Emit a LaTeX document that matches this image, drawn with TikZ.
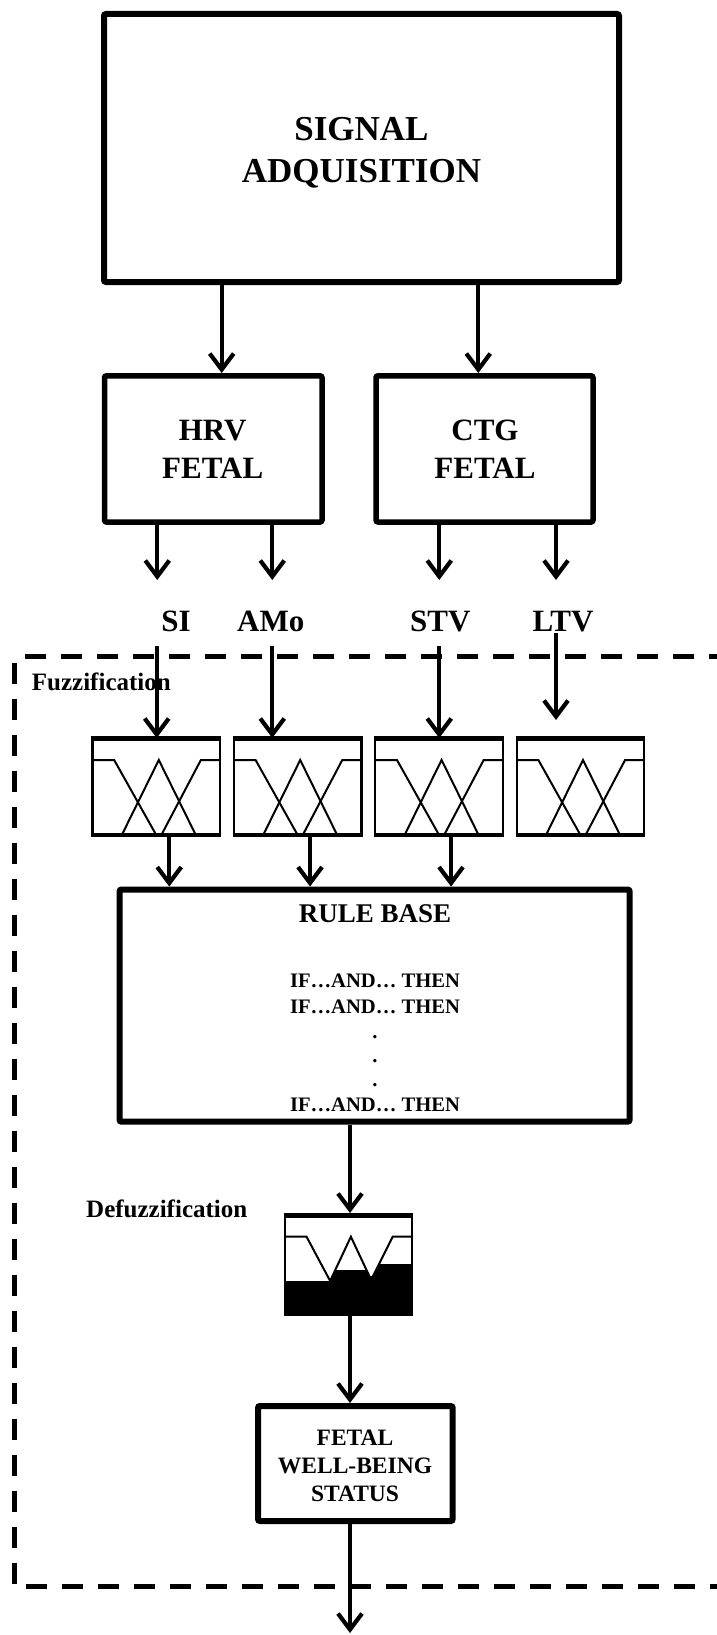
\documentclass[tikz,border=0pt]{standalone}
\usepackage{fontspec}
\setmainfont{Liberation Serif}
\usetikzlibrary{arrows.meta,calc}
\newcommand{\mfshape}[4]{%
  \draw[mf] (#1,#3) -- ({#1+0.17*#2},#3) -- ({#1+0.50*#2},#4);
  \draw[mf] ({#1+0.23*#2},#4) -- ({#1+0.52*#2},#3) -- ({#1+0.81*#2},#4);
  \draw[mf] ({#1+0.54*#2},#4) -- ({#1+0.85*#2},#3) -- ({#1+#2},#3);}
\begin{document}
\begin{tikzpicture}[x=1pt,y=-1pt,
  box/.style={draw, line width=6pt, rounded corners=2pt, inner sep=0pt, rectangle},
  fzbox/.style={draw, line width=2.2pt, inner sep=0pt, outer sep=0pt, rectangle},
  arr/.style={line width=4.2pt, -{Straight Barb[length=16pt,width=24pt]}},
  mf/.style={line width=2pt, line join=miter},
  thick5/.style={line width=5pt},
  dashbox/.style={line width=5pt, dash pattern=on 21pt off 15pt},
  tbig/.style={font=\fontsize{35}{42}\selectfont\bfseries, anchor=base, inner sep=0pt},
  tmid/.style={font=\fontsize{31}{36}\selectfont\bfseries, anchor=base, inner sep=0pt},
  trb/.style={font=\fontsize{27}{32}\selectfont\bfseries, anchor=base, inner sep=0pt},
  tif/.style={font=\fontsize{20.6}{25}\selectfont\bfseries, anchor=base, inner sep=0pt},
  tfz/.style={font=\fontsize{25}{30}\selectfont\bfseries, anchor=base west, inner sep=0pt},
  tst/.style={font=\fontsize{23.5}{28}\selectfont\bfseries, anchor=base, inner sep=0pt}
]
\useasboundingbox (0,0) rectangle (717,1635);

% dashed fuzzy system frame
\draw[dashbox, dash phase=25pt] (14.3,656.7) -- (760,656.7);
\draw[dashbox, dash phase=30pt] (14.3,656.7) -- (14.3,1586.7) -- (760,1586.7);

% main boxes
\node[box, minimum width=515pt, minimum height=268pt] (sig) at (361.5,148) {};
\node[tbig] (sigA) at (361.5,140) {SIGNAL};
\node[tbig] (sigB) at (361.5,182.7) {ADQUISITION};

\node[box, line width=5.5pt, minimum width=217.5pt, minimum height=146.2pt] (hrv) at (213.25,448.9) {};
\node[tmid] (hrvA) at (212.7,440) {HRV};
\node[tmid] (hrvB) at (212.7,478.3) {FETAL};

\node[box, line width=5.5pt, minimum width=217pt, minimum height=146.2pt] (ctg) at (484.5,448.9) {};
\node[tmid] (ctgA) at (485,440) {CTG};
\node[tmid] (ctgB) at (485,478.3) {FETAL};

% signal -> hrv / ctg
\coordinate (s1) at (221.7,373);
\coordinate (s2) at (478.3,373);
\draw[arr] (s1 |- sig.south) -- (s1 |- hrv.north);
\draw[arr] (s2 |- sig.south) -- (s2 |- ctg.north);

% feature labels
\node[tmid] (lSI) at (176,631.7) {SI};
\node[tmid] (lAMo) at (270.8,631.7) {AMo};
\node[tmid] (lSTV) at (440.3,631.7) {STV};
\node[tmid] (lLTV) at (563,631.7) {LTV};

\coordinate (tSI) at (157.3,580);
\coordinate (tAMo) at (272.3,580);
\coordinate (tSTV) at (439.3,580);
\coordinate (tLTV) at (556,580);
\draw[arr] (tSI |- hrv.south) -- (tSI);
\draw[arr] (tAMo |- hrv.south) -- (tAMo);
\draw[arr] (tSTV |- ctg.south) -- (tSTV);
\draw[arr] (tLTV |- ctg.south) -- (tLTV);

\node[tfz] (fuzT) at (31.7,690) {Fuzzification};

% fuzzification boxes
\foreach \k in {1,2,3,4}{
  \pgfmathsetmacro{\L}{92.5+141.4*(\k-1)}
  \node[fzbox, minimum width=127.5pt, minimum height=97pt] (fz\k) at (\L+63.75,786.5) {};
  \mfshape{\L}{127.5}{760}{835}
  \draw[thick5] ($(fz\k.north west)+(-1.1,0)$) -- ($(fz\k.north east)+(1.1,0)$);
  \draw[line width=4pt] ($(fz\k.south west)+(-1.1,0)$) -- ($(fz\k.south east)+(1.1,0)$);
}

% label -> fuzzification
\coordinate (bSI) at (156.7,646);
\coordinate (bAMo) at (272.3,646);
\coordinate (bSTV) at (439.3,646);
\coordinate (bLTV) at (556,633);
\coordinate (eLTV) at (556,720);
\draw[arr] (bSI) -- (bSI |- fz1.north);
\draw[arr] (bAMo) -- (bAMo |- fz2.north);
\draw[arr] (bSTV) -- (bSTV |- fz3.north);
\draw[arr] (bLTV) -- (eLTV);

% rule base
\node[box, minimum width=510.1pt, minimum height=232.2pt] (rule) at (374.55,1005.6) {};
\node[trb] (ruleT) at (375,922.7) {RULE BASE};
\node[tif] (r1) at (375,987.3) {IF…AND… THEN};
\node[tif] (r2) at (375,1013.3) {IF…AND… THEN};
\node[tif] (d1) at (375,1038) {.};
\node[tif] (d2) at (375,1062) {.};
\node[tif] (d3) at (375,1086) {.};
\node[tif] (r3) at (375,1111.7) {IF…AND… THEN};

\coordinate (f1o) at ($(fz1.south)+(13,1)$);
\coordinate (f2o) at ($(fz2.south)+(12.4,1)$);
\coordinate (f3o) at ($(fz3.south)+(12,1)$);
\draw[arr] (f1o) -- (f1o |- rule.north);
\draw[arr] (f2o) -- (f2o |- rule.north);
\draw[arr] (f3o) -- (f3o |- rule.north);

% defuzzification
\node[tfz] (defT) at (86,1217.3) {Defuzzification};
\node[fzbox, minimum width=126.7pt, minimum height=100pt] (defz) at (348.35,1265) {};
\mfshape{285}{126.7}{1236.7}{1315}
\fill[black] (285,1281) -- (330.1,1281) -- (335.2,1270) -- (366.6,1270) -- (369.4,1276)
  -- (373,1276) -- (379,1264) -- (411.7,1264) -- (411.7,1315) -- (285,1315) -- cycle;
\draw[thick5] ($(defz.north west)+(-1.1,0)$) -- ($(defz.north east)+(1.1,0)$);

\coordinate (dIn) at (350,1213);
\coordinate (dOut) at (350,1315);
\draw[arr] (dIn |- rule.south) -- (dIn);

% output
\node[box, minimum width=194.7pt, minimum height=115pt] (fetal) at (355.35,1463.5) {};
\node[tst] (fA) at (355,1445) {FETAL};
\node[tst] (fB) at (355,1473.3) {WELL-BEING};
\node[tst] (fC) at (355,1501.7) {STATUS};
\draw[arr] (dOut) -- (dOut |- fetal.north);

\coordinate (outEnd) at (350,1633);
\draw[arr] (outEnd |- fetal.south) -- (outEnd);
\end{tikzpicture}
\end{document}
